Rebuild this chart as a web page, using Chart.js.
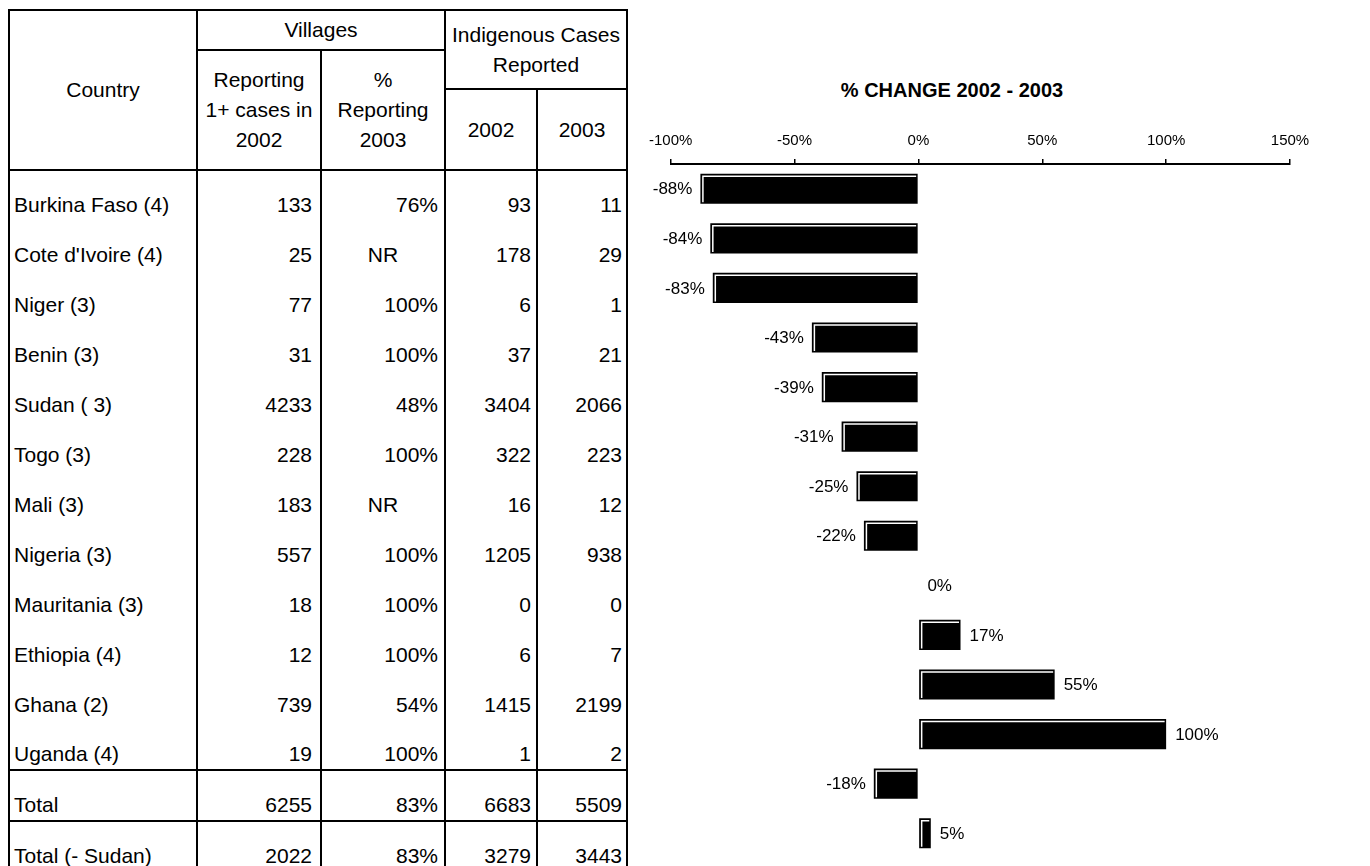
<!DOCTYPE html>
<html>
<head>
<meta charset="utf-8">
<title>% Change 2002 - 2003</title>
<script src="https://cdn.jsdelivr.net/npm/chart.js@4.4.1/dist/chart.umd.min.js"></script>
<style>
  html, body { margin: 0; padding: 0; background: #fff; }
  body { width: 1370px; height: 866px; position: relative; overflow: hidden;
         font-family: "Liberation Sans", Arial, sans-serif; color: #000; }
  #cases { position: absolute; left: 8px; top: 9px; border-collapse: collapse;
           table-layout: fixed; font-size: 21px; }
  #cases th, #cases td { padding: 0; border-left: 2px solid #000; border-right: 2px solid #000;
                         overflow: hidden; white-space: nowrap; }
  #cases thead th { border: 2px solid #000; font-weight: normal; line-height: 30px;
                    text-align: center; vertical-align: middle; }
  #cases tbody tr { height: 50px; }
  #cases tbody tr.sep { height: 51px; }
  #cases tbody tr.sep td { border-top: 2px solid #000; }
  #cases tbody tr:last-child td { border-bottom: 2px solid #000; }
  #cases td { vertical-align: bottom; padding-bottom: 3px; line-height: 24px; text-align: right; }
  #cases td.name { text-align: left; padding-left: 4px; }
  #cases td.c1 { padding-right: 8px; }
  #cases td.c2 { padding-right: 6px; }
  #cases td.c3 { padding-right: 5px; }
  #cases td.c4 { padding-right: 4px; }
  #cases td.nr { text-align: center; padding-right: 0; }
  #title { position: absolute; left: 752px; top: 78px; width: 400px; text-align: center;
           font-weight: bold; font-size: 20px; line-height: 24px; }
  #changeChart { position: absolute; left: 640px; top: 0; }
</style>
</head>
<body>
<table id="cases">
  <colgroup>
    <col style="width:188px"><col style="width:124px"><col style="width:124px">
    <col style="width:92px"><col style="width:90px">
  </colgroup>
  <thead>
    <tr style="height:40px">
      <th rowspan="3">Country</th>
      <th colspan="2">Villages</th>
      <th colspan="2" rowspan="2">Indigenous Cases<br>Reported</th>
    </tr>
    <tr style="height:39px">
      <th rowspan="2">Reporting<br>1+ cases in<br>2002</th>
      <th rowspan="2">%<br>Reporting<br>2003</th>
    </tr>
    <tr style="height:81px">
      <th>2002</th>
      <th>2003</th>
    </tr>
  </thead>
  <tbody id="cases-tbody"></tbody>
</table>
<div id="title">% CHANGE 2002 - 2003</div>
<canvas id="changeChart" width="730" height="866"></canvas>

<script>
const COUNTRIES = [
  "Burkina Faso (4)", "Cote d'Ivoire (4)", "Niger (3)", "Benin (3)", "Sudan ( 3)",
  "Togo (3)", "Mali (3)", "Nigeria (3)", "Mauritania (3)", "Ethiopia (4)",
  "Ghana (2)", "Uganda (4)", "Total", "Total (- Sudan)",
];
const VILLAGES_2002 = [133, 25, 77, 31, 4233, 228, 183, 557, 18, 12, 739, 19, 6255, 2022];
const PCT_REPORTING_2003 = ["76%", "NR", "100%", "100%", "48%", "100%", "NR", "100%", "100%", "100%", "54%", "100%", "83%", "83%"];
const CASES_2002 = [93, 178, 6, 37, 3404, 322, 16, 1205, 0, 6, 1415, 1, 6683, 3279];
const CASES_2003 = [11, 29, 1, 21, 2066, 223, 12, 938, 0, 7, 2199, 2, 5509, 3443];
const PCT_CHANGE = [-88, -84, -83, -43, -39, -31, -25, -22, 0, 17, 55, 100, -18, 5];
const X_TICKS = [-100, -50, 0, 50, 100, 150];

function fillTable() {
  const tbody = document.getElementById("cases-tbody");
  tbody.innerHTML = COUNTRIES.map((name, i) => {
    const sep = i >= 12 ? ' class="sep"' : "";
    const pct = PCT_REPORTING_2003[i];
    const pctCls = pct === "NR" ? "c2 nr" : "c2";
    return `<tr${sep}><td class="name">${name}</td><td class="c1">${VILLAGES_2002[i]}</td>` +
      `<td class="${pctCls}">${pct}</td><td class="c3">${CASES_2002[i]}</td><td class="c4">${CASES_2003[i]}</td></tr>`;
  }).join("");
}

// white inner edge on the top/left of each bar + value labels
const barDecor = {
  id: "barDecor",
  afterDatasetsDraw(chart) {
    const ctx = chart.ctx;
    const meta = chart.getDatasetMeta(0);
    ctx.save();
    meta.data.forEach((bar, i) => {
      const p = bar.getProps(["x", "y", "base", "height"], true);
      const left = Math.min(p.x, p.base);
      const right = Math.max(p.x, p.base);
      const top = p.y - p.height / 2;
      const bottom = p.y + p.height / 2;
      if (right - left > 1) {
        ctx.strokeStyle = "#fff";
        ctx.lineWidth = 1.5;
        ctx.beginPath();
        ctx.moveTo(left + 2.5, bottom - 1.5);
        ctx.lineTo(left + 2.5, top + 2.5);
        ctx.lineTo(right - 1.5, top + 2.5);
        ctx.stroke();
      }
      const v = PCT_CHANGE[i];
      ctx.fillStyle = "#000";
      ctx.font = '17px "Liberation Sans", Arial, sans-serif';
      ctx.textBaseline = "middle";
      if (v < 0) {
        ctx.textAlign = "right";
        ctx.fillText(v + "%", p.x - 8, p.y + 1);
      } else {
        ctx.textAlign = "left";
        ctx.fillText(v + "%", p.x + 9, p.y + 1);
      }
    });
    ctx.restore();
  },
};

function charts() {
  new Chart(document.getElementById("changeChart"), {
    type: "bar",
    data: {
      labels: COUNTRIES,
      datasets: [
        {
          label: "% change 2002 - 2003",
          data: PCT_CHANGE,
          backgroundColor: "#000",
          borderWidth: 0,
          barPercentage: 0.75,
          categoryPercentage: 0.81,
        },
      ],
    },
    options: {
      indexAxis: "y",
      responsive: false,
      animation: false,
      devicePixelRatio: 1,
      layout: { padding: { left: 28, right: 80, top: 0, bottom: 8 } },
      scales: {
        x: {
          position: "top",
          min: -100,
          max: 150,
          afterBuildTicks: (scale) => {
            scale.ticks = X_TICKS.map((v) => ({ value: v }));
          },
          afterFit: (scale) => {
            scale.height = 164;
          },
          ticks: {
            color: "#000",
            padding: 9,
            font: { family: '"Liberation Sans", Arial, sans-serif', size: 15 },
            callback: (v) => v + "%",
            maxRotation: 0,
          },
          grid: { drawOnChartArea: false, drawTicks: true, tickLength: 5, color: "#000", lineWidth: 1.5 },
          border: { display: true, color: "#000", width: 2 },
        },
        y: { display: false },
      },
      plugins: {
        legend: { display: false },
        title: { display: false },
        tooltip: { enabled: false },
      },
    },
    plugins: [barDecor],
  });
}

function init() {
  fillTable();
  charts();
}

if (document.readyState === "loading") {
  document.addEventListener("DOMContentLoaded", init);
} else {
  init();
}
</script>
</body>
</html>
